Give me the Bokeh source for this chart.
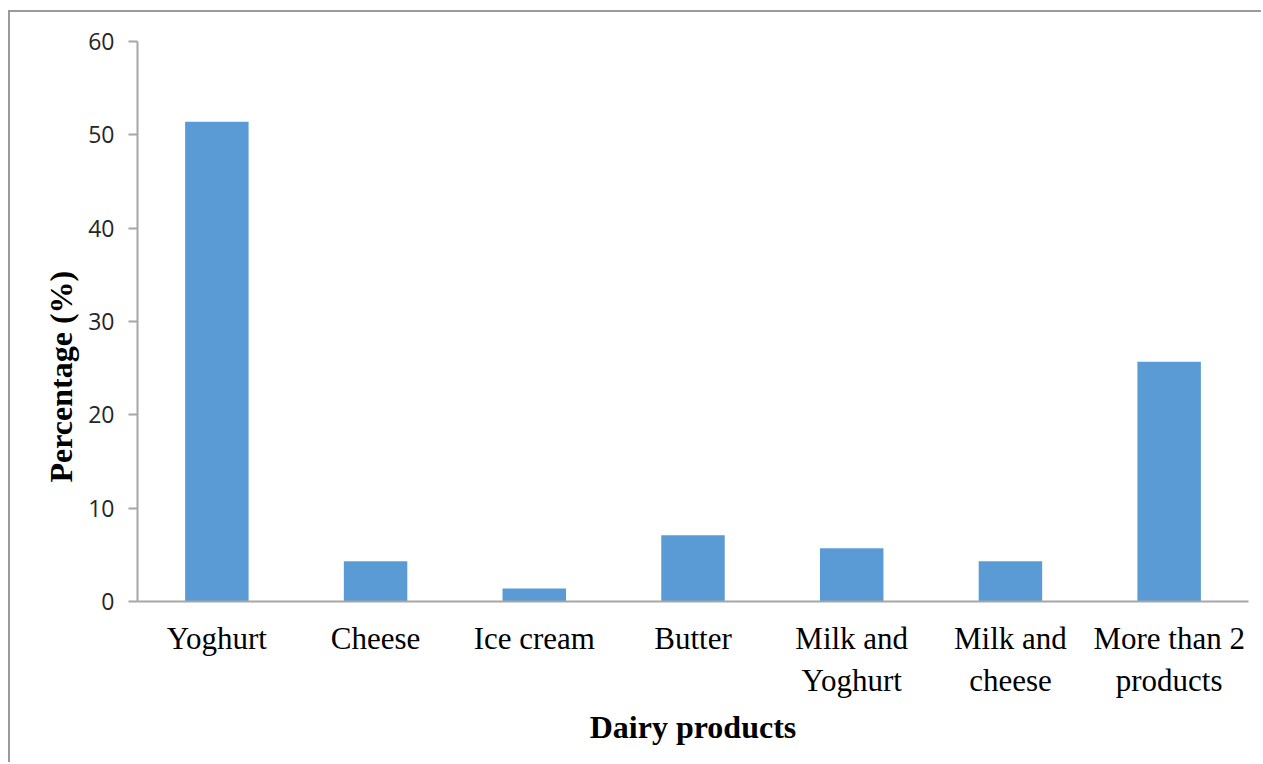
from bokeh.plotting import figure
from bokeh.models import Range1d, FixedTicker, Title
from bokeh.embed import file_html
from bokeh.resources import INLINE

categories = ["Yoghurt", "Cheese", "Ice cream", "Butter", "Milk and\nYoghurt", "Milk and\ncheese", "More than 2\nproducts"]
percent = [51.4, 4.3, 1.4, 7.1, 5.7, 4.3, 25.7]
y_ticks = [0, 10, 20, 30, 40, 50, 60]

xs = [i + 0.5 for i in range(len(categories))]

p = figure(width=1253, height=752, output_backend="svg", toolbar_location=None,
           x_range=Range1d(0, len(categories)), y_range=Range1d(0, 60),
           margin=(10, 0, 0, 8))
p.styles = {"border-left": "2px solid #9A9A9A", "border-top": "2px solid #9A9A9A"}
p.min_border_left = 127
p.min_border_right = 15
p.min_border_top = 29
p.min_border_bottom = 163
p.outline_line_color = None
p.grid.visible = False
p.background_fill_color = "white"
p.border_fill_color = "white"

p.vbar(x=xs, top=percent, width=0.4, bottom=0, fill_color="#5B9BD5", line_color=None)

# x axis
xa = p.xaxis[0]
xa.ticker = FixedTicker(ticks=xs)
xa.major_label_overrides = {x: c for x, c in zip(xs, categories)}
xa.major_tick_line_color = None
xa.minor_tick_line_color = None
xa.axis_line_color = "#A6A6A6"
xa.axis_line_width = 2
xa.major_label_text_font = "Liberation Serif"
xa.major_label_text_font_size = "31px"
xa.major_label_text_color = "#000000"
xa.major_label_standoff = 13
xa.axis_label = "Dairy products"
xa.axis_label_text_font = "Liberation Serif"
xa.axis_label_text_font_style = "bold"
xa.axis_label_text_font_size = "32px"
xa.axis_label_text_color = "#000000"
xa.axis_label_standoff = 8

ya = p.yaxis[0]
ya.ticker = FixedTicker(ticks=y_ticks)
ya.minor_tick_line_color = None
ya.major_tick_out = 9
ya.major_tick_in = 0
ya.major_tick_line_color = "#A6A6A6"
ya.major_tick_line_width = 2
ya.axis_line_color = "#A6A6A6"
ya.axis_line_width = 2
ya.major_label_text_font = "Open Sans"
ya.major_label_text_font_size = "23px"
ya.major_label_text_color = "#262626"
ya.major_label_standoff = 14

ytitle = Title(text="Percentage (%)", align="left", offset=119,
               text_font="Liberation Serif", text_font_style="bold",
               text_font_size="32px", text_color="#000000", standoff=14)
p.add_layout(ytitle, "left")

open("out.html", "w").write(file_html(p, INLINE))
